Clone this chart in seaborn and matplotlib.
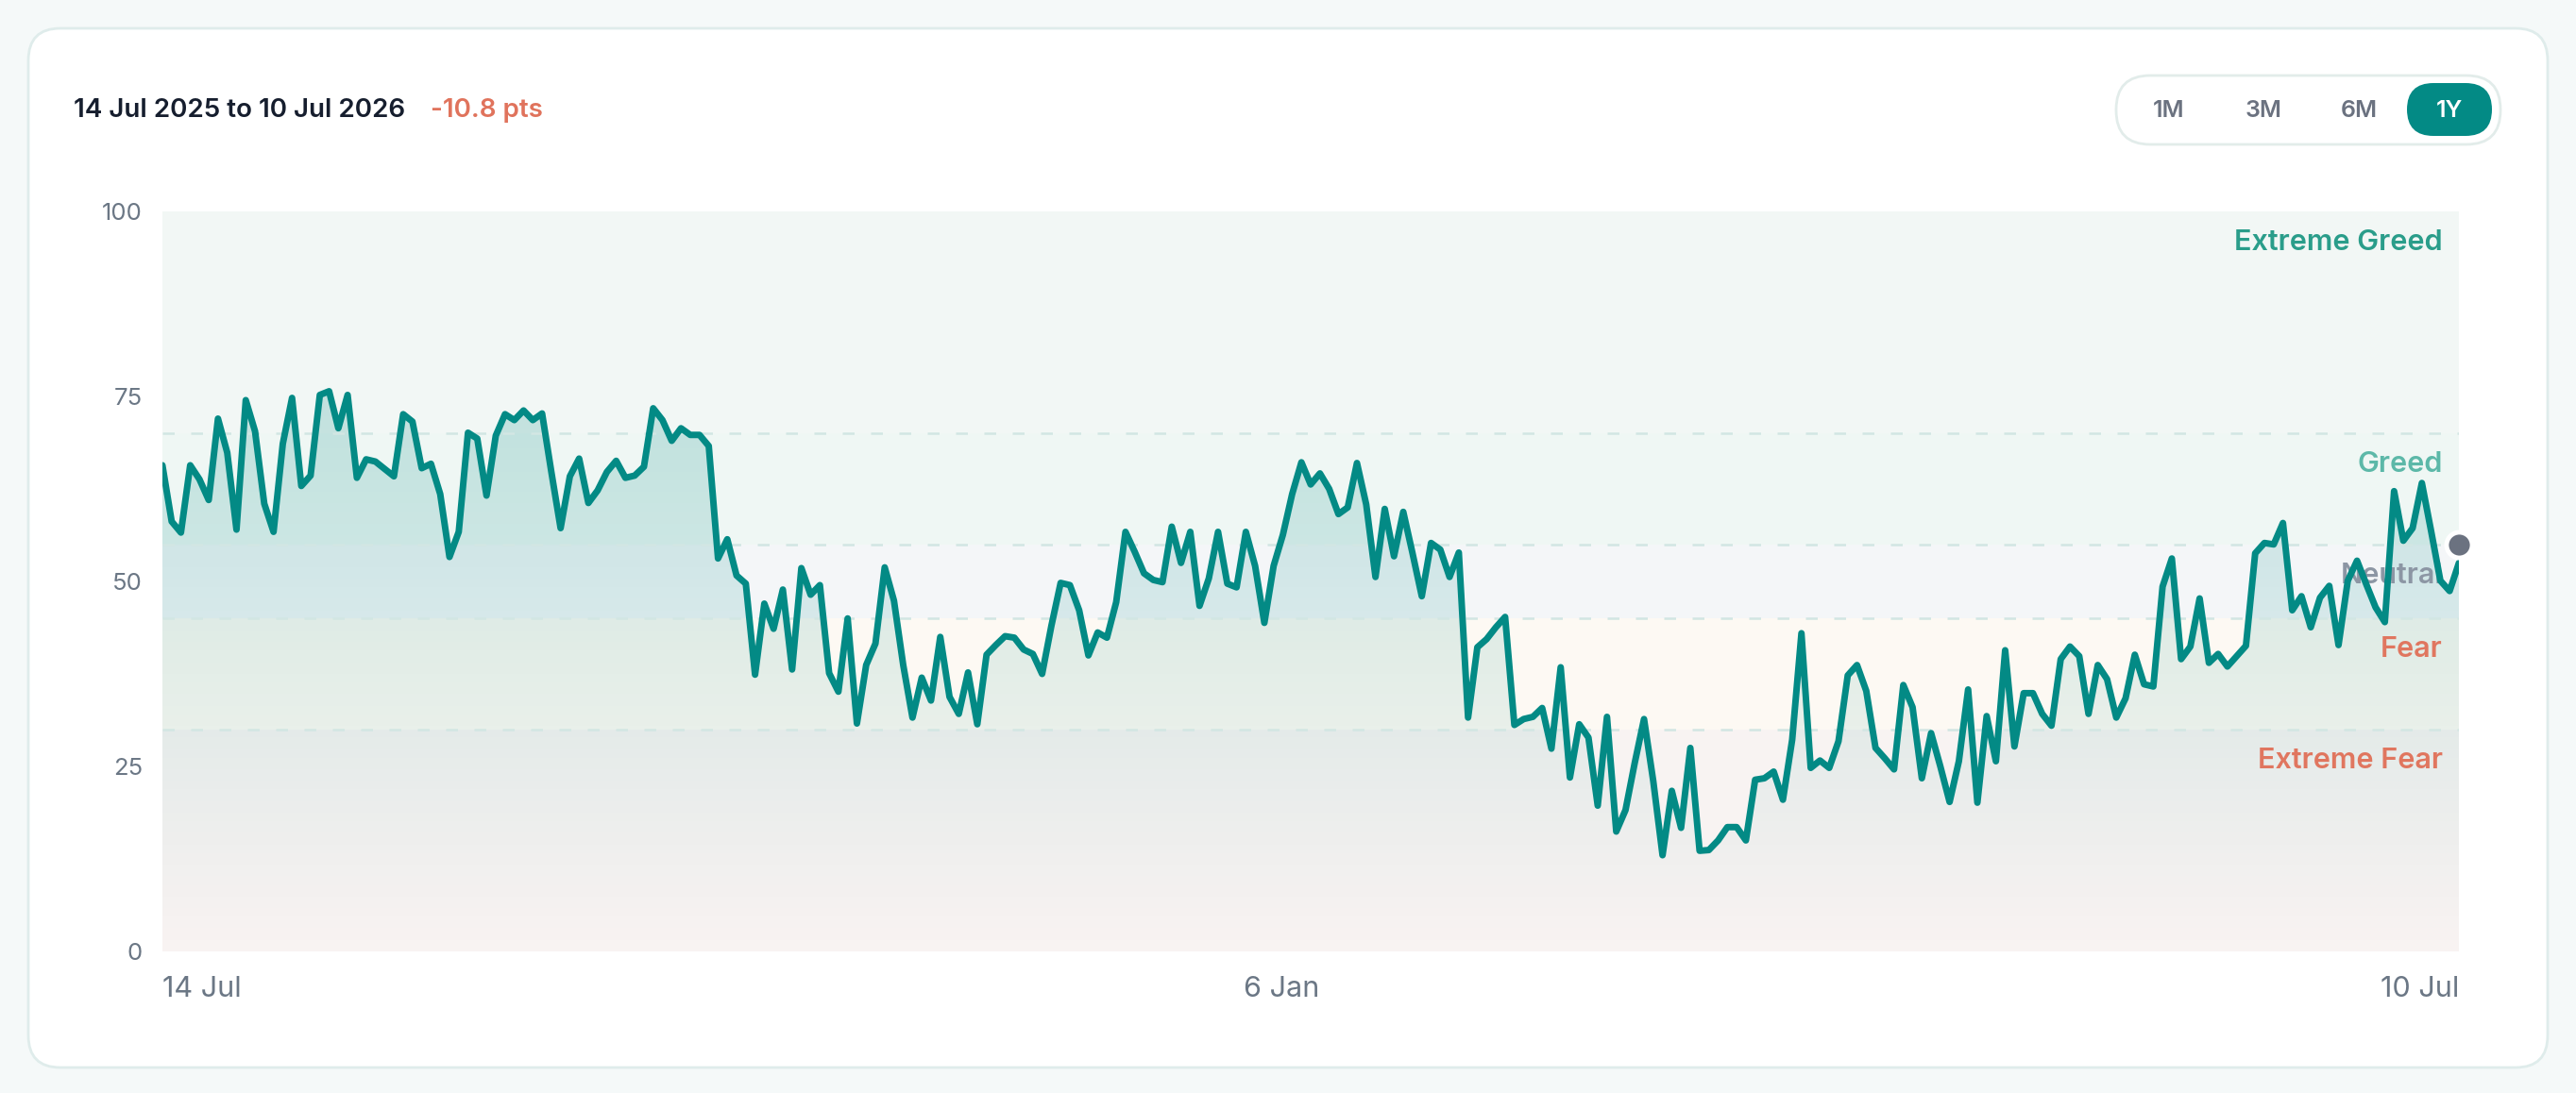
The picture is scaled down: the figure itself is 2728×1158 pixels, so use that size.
import numpy as np
import pandas as pd
import matplotlib
matplotlib.use("Agg")
import matplotlib.pyplot as plt
import matplotlib.dates as mdates
import matplotlib.transforms as mtransforms
from matplotlib.colors import to_rgb
from matplotlib.patches import FancyBboxPatch
import seaborn as sns

# index readings, left to right, about two months per list
jul_sep = [65.7, 58.1, 56.6, 65.7, 63.8, 61.0, 72.0, 67.4, 57.0, 74.5, 70.3, 60.5, 56.7, 68.6,
           74.8, 62.9, 64.3, 75.2, 75.7, 70.7, 75.2, 64.0, 66.5, 66.2, 65.2, 64.2, 72.6, 71.6,
           65.3, 65.9, 61.8, 53.3, 56.7, 70.1, 69.3, 61.6, 69.7, 72.6, 71.8, 73.1, 71.8, 72.7]
sep_nov = [64.8, 57.2, 64.2, 66.6, 60.6, 62.3, 64.8, 66.3, 64.0, 64.3, 65.5, 73.4, 71.8, 69.0,
           70.7, 69.8, 69.8, 68.3, 53.1, 55.7, 50.8, 49.7, 37.4, 47.0, 43.6, 48.9, 38.1, 51.8,
           48.2, 49.5, 37.6, 35.1, 45.0, 30.8, 38.7, 41.6, 51.9, 47.4, 38.7, 31.6, 37.0]
nov_jan = [33.9, 42.5, 34.4, 32.1, 37.7, 30.7, 40.1, 41.4, 42.6, 42.4, 40.8, 40.2, 37.5, 44.0,
           49.8, 49.5, 46.1, 40.0, 43.1, 42.4, 47.2, 56.7, 54.0, 51.1, 50.2, 49.9, 57.4, 52.5,
           56.7, 46.7, 50.4, 56.7, 49.7, 49.2, 56.7, 52.1, 44.4, 52.1, 56.3, 61.8, 66.1]
jan_mar = [63.1, 64.6, 62.5, 59.1, 60.0, 66.0, 60.4, 50.6, 59.8, 53.4, 59.4, 53.8, 48.0, 55.2,
           54.3, 50.6, 53.9, 31.6, 41.1, 42.2, 43.8, 45.2, 30.6, 31.4, 31.7, 32.9, 27.4, 38.4,
           23.5, 30.7, 28.9, 19.7, 31.7, 16.2, 19.1, 25.5, 31.4, 23.0, 13.0, 21.7, 16.7]
mar_may = [27.5, 13.6, 13.7, 15.0, 16.8, 16.8, 15.0, 23.2, 23.4, 24.3, 20.5, 28.6, 43.0, 24.8,
           25.8, 24.8, 28.4, 37.3, 38.7, 35.2, 27.5, 26.1, 24.6, 36.0, 33.0, 23.4, 29.5, 25.0,
           20.2, 25.7, 35.4, 20.1, 31.8, 25.7, 40.7, 27.7, 34.9, 34.9, 32.1, 30.5]
may_jul = [39.5, 41.2, 39.9, 32.1, 38.7, 36.8, 31.6, 34.2, 40.1, 36.1, 35.8, 49.3, 53.1, 39.5,
           41.2, 47.7, 39.0, 40.2, 38.5, 39.9, 41.3, 53.8, 55.2, 55.0, 57.9, 46.1, 48.0, 43.8,
           47.8, 49.4, 41.4, 50.1, 52.8, 49.6, 46.5, 44.5, 62.2, 55.5, 57.2, 63.3, 56.8, 50.1,
           48.7, 52.5]

start_date = "2025-07-14"
end_date = "2026-07-10"
marker_value = 55.0

y_ticks = [0, 25, 50, 75, 100]
x_tick_dates = ["2025-07-14", "2026-01-06", "2026-07-10"]
x_tick_labels = ["14 Jul", "6 Jan", "10 Jul"]

zone_edges = [0, 30, 45, 55, 70, 100]
zone_names = ["Extreme Fear", "Fear", "Neutral", "Greed", "Extreme Greed"]
zone_bg = ["#f8f3f2", "#fdf9f3", "#f4f6f8", "#eff7f4", "#f2f7f5"]
zone_text = ["#e0765f", "#e0765f", "#8c96a4", "#5cb8a8", "#2a9d8a"]

header_range = "14 Jul 2025 to 10 Jul 2026"
header_change = "-10.8 pts"
periods = ["1M", "3M", "6M", "1Y"]

values = np.concatenate([jul_sep, sep_nov, nov_jan, jan_mar, mar_may, may_jul])
dates = pd.date_range(start_date, end_date, periods=len(values))
df = pd.DataFrame({"date": dates, "value": values})

teal = "#038a85"

sns.set_theme(style="white")
plt.rcParams["font.family"] = ["Inter", "DejaVu Sans"]

W, H = 2728, 1158
fig = plt.figure(figsize=(W / 100, H / 100), dpi=100)
fig.patch.set_facecolor("#f5f9f9")

# card, header and period buttons drawn in pixel units
bg = fig.add_axes([0, 0, 1, 1], zorder=0)
bg.set_xlim(0, W)
bg.set_ylim(H, 0)
bg.axis("off")
bg.add_patch(FancyBboxPatch((30, 30), 2668, 1101, boxstyle="round,pad=0,rounding_size=34",
                            fc="white", ec="#dfeceb", lw=2))
bg.text(78, 117, header_range, ha="left", va="center", fontsize=20, weight="semibold", color="#161e2e")
bg.text(456, 117, header_change, ha="left", va="center", fontsize=20, weight="semibold", color="#e0735c")

bg.add_patch(FancyBboxPatch((2241, 80), 407, 73, boxstyle="round,pad=0,rounding_size=36",
                            fc="white", ec="#e2ecea", lw=2))
bg.add_patch(FancyBboxPatch((2549, 88), 90, 56, boxstyle="round,pad=0,rounding_size=28",
                            fc=teal, ec="none"))
for label, xc in zip(periods, [2297, 2397, 2498, 2594]):
    active = label == "1Y"
    bg.text(xc, 117, label, ha="center", va="center", fontsize=18, weight="semibold",
            color="white" if active else "#6b7280")

# chart
ax = fig.add_axes([172 / W, 1 - 1008 / H, 2432 / W, 784 / H], zorder=1)

for lo, hi, c in zip(zone_edges[:-1], zone_edges[1:], zone_bg):
    ax.axhspan(lo, hi, color=c, lw=0, zorder=0)

x0, x1 = mdates.date2num(dates[0]), mdates.date2num(dates[-1])

poly = ax.fill_between(df["date"], df["value"], 0, color="none", lw=0)
grad = np.zeros((256, 1, 4))
grad[..., :3] = to_rgb(teal)
yy = np.linspace(100, 0, 256)
grad[:, 0, 3] = np.clip(0.19 * yy / 70, 0, 0.21)
im = ax.imshow(grad, extent=[x0, x1, 0, 100], aspect="auto", origin="upper", zorder=1)
im.set_clip_path(poly.get_paths()[0], transform=ax.transData)

for lvl in zone_edges[1:-1]:
    ax.axhline(lvl, color="#d2e6e3", lw=1.8, dashes=(5, 7), zorder=2)

trans = mtransforms.blended_transform_factory(ax.transAxes, ax.transData)
for hi, name, c in zip(zone_edges[1:], zone_names, zone_text):
    ax.text(0.993, hi - 4.2, name, transform=trans, ha="right", va="center",
            fontsize=22, weight="semibold", color=c, zorder=3)

sns.lineplot(data=df, x="date", y="value", ax=ax, color=teal, lw=5, zorder=5)
ax.scatter([dates[-1]], [marker_value], s=380, color="#6b7280", edgecolor="white",
           linewidth=3.5, zorder=6, clip_on=False)

ax.set_xlim(x0, x1)
ax.set_ylim(0, 100)
ax.set_yticks(y_ticks)
ax.set_xticks(pd.to_datetime(x_tick_dates))
ax.set_xticklabels(x_tick_labels)
for lab, ha in zip(ax.get_xticklabels(), ["left", "center", "right"]):
    lab.set_ha(ha)
ax.tick_params(axis="both", length=0, labelcolor="#6b7785")
ax.tick_params(axis="y", pad=15, labelsize=18.5)
ax.tick_params(axis="x", pad=19, labelsize=22)
ax.set_xlabel("")
ax.set_ylabel("")
for s in ax.spines.values():
    s.set_visible(False)

fig.savefig("out.png", dpi=100)
